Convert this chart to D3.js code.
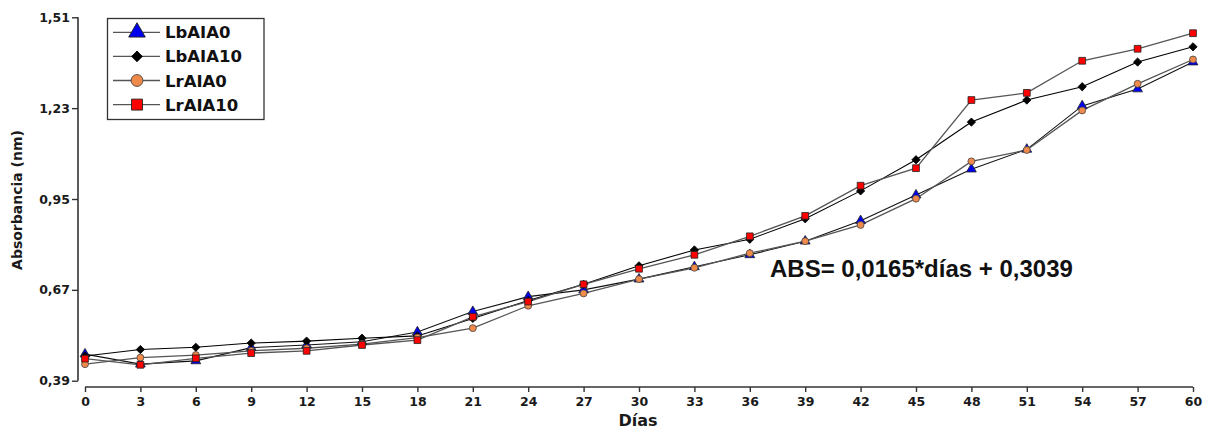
<!DOCTYPE html>
<html>
<head>
<meta charset="utf-8">
<script src="https://cdn.jsdelivr.net/npm/d3@7"></script>
<style>
  html, body { margin: 0; padding: 0; background: #fff; }
  svg { display: block; }
</style>
</head>
<body>
<svg id="chart" width="1211" height="431"></svg>
<script>
// Sampling days and absorbance readings for each treatment
const days = [0, 3, 6, 9, 12, 15, 18, 21, 24, 27, 30, 33, 36, 39, 42, 45, 48, 51, 54, 57, 60];
const seriesNames = ["LbAIA0", "LbAIA10", "LrAIA0", "LrAIA10"];
const lbAIA0  = [0.472, 0.441, 0.451, 0.492, 0.500, 0.510, 0.540, 0.603, 0.649, 0.670, 0.703, 0.741, 0.778, 0.820, 0.883, 0.962, 1.042, 1.103, 1.237, 1.289, 1.372];
const lbAIA10 = [0.466, 0.486, 0.493, 0.506, 0.512, 0.521, 0.528, 0.582, 0.637, 0.687, 0.744, 0.793, 0.826, 0.889, 0.975, 1.071, 1.187, 1.255, 1.296, 1.372, 1.419];
const lrAIA0  = [0.441, 0.461, 0.469, 0.482, 0.490, 0.503, 0.523, 0.552, 0.621, 0.659, 0.703, 0.738, 0.783, 0.820, 0.870, 0.951, 1.066, 1.101, 1.223, 1.305, 1.380];
const lrAIA10 = [0.458, 0.439, 0.459, 0.475, 0.482, 0.500, 0.515, 0.587, 0.634, 0.687, 0.735, 0.778, 0.835, 0.898, 0.991, 1.045, 1.255, 1.277, 1.376, 1.413, 1.461];
const yTicks = [0.39, 0.67, 0.95, 1.23, 1.51];
const xTicks = days;
const equationText = "ABS= 0,0165*días + 0,3039";

const svg = d3.select("#chart");
const x = d3.scaleLinear().domain([0, 60]).range([85, 1193]);
const y = d3.scaleLinear().domain([0.39, 1.51]).range([380.7, 17.3]);
const axisColor = "#333";
const tickFont = "'DejaVu Sans', sans-serif";

// Y axis (detached from the x axis)
const yAxis = svg.append("g")
  .attr("transform", "translate(78,0)")
  .call(d3.axisLeft(y).tickValues(yTicks).tickSize(6).tickPadding(2)
        .tickFormat(d => d3.format(".2f")(d).replace(".", ",")));
yAxis.select(".domain").attr("stroke", axisColor).attr("stroke-width", 1.6).attr("d", `M0,${y(1.51)}V${y(0.39)}`);
yAxis.selectAll(".tick line").attr("stroke", axisColor).attr("stroke-width", 1.4);
yAxis.selectAll(".tick text").attr("font-family", tickFont).attr("font-weight", "bold")
  .attr("font-size", 12.5).attr("fill", "#1a1a1a");

// X axis
const xAxis = svg.append("g")
  .attr("transform", "translate(0,387)")
  .call(d3.axisBottom(x).tickValues(xTicks).tickSize(5).tickPadding(5).tickFormat(d3.format("d")));
xAxis.select(".domain").attr("stroke", axisColor).attr("stroke-width", 1.6).attr("d", `M${x(0)},0H${x(60)}`);
xAxis.selectAll(".tick line").attr("stroke", axisColor).attr("stroke-width", 1.4);
xAxis.selectAll(".tick text").attr("font-family", tickFont).attr("font-weight", "bold")
  .attr("font-size", 12.5).attr("fill", "#1a1a1a");

// Axis titles
svg.append("text")
  .attr("x", x(30) - 1).attr("y", 426)
  .attr("text-anchor", "middle")
  .attr("font-family", tickFont).attr("font-weight", "bold").attr("font-size", 16)
  .attr("fill", "#1a1a1a").text("Días");
svg.append("text")
  .attr("transform", "translate(22,200) rotate(-90)")
  .attr("text-anchor", "middle")
  .attr("font-family", tickFont).attr("font-weight", "bold").attr("font-size", 14)
  .attr("fill", "#1a1a1a").text("Absorbancia (nm)");

// Series definitions
const series = [
  { name: seriesNames[0], values: lbAIA0,  symbol: d3.symbolTriangle, fill: "#0000ee", stroke: "#222", line: "#111", lw: 1.1, size: 42, lsize: 120 },
  { name: seriesNames[1], values: lbAIA10, symbol: d3.symbolDiamond2, fill: "#000",    stroke: "#000", line: "#000", lw: 1.1, size: 44, lsize: 72 },
  { name: seriesNames[2], values: lrAIA0,  symbol: d3.symbolCircle,   fill: "#f08a4b", stroke: "#444", line: "#555", lw: 1.3, size: 38, lsize: 110 },
  { name: seriesNames[3], values: lrAIA10, symbol: d3.symbolSquare,   fill: "#ff0000", stroke: "#222", line: "#555", lw: 1.3, size: 46, lsize: 120 }
];

const line = d3.line().x(d => x(d[0])).y(d => y(d[1]));

const plot = svg.append("g");
series.forEach(s => {
  plot.append("path")
    .datum(days.map((d, i) => [d, s.values[i]]))
    .attr("fill", "none").attr("stroke", s.line).attr("stroke-width", s.lw)
    .attr("d", line);
});
series.forEach(s => {
  plot.append("g").selectAll("path")
    .data(days.map((d, i) => [d, s.values[i]]))
    .join("path")
    .attr("transform", d => `translate(${x(d[0])},${y(d[1])})`)
    .attr("d", d3.symbol(s.symbol, s.size))
    .attr("fill", s.fill).attr("stroke", s.stroke).attr("stroke-width", 0.8);
});

// Fitted equation
svg.append("text")
  .attr("x", 770).attr("y", 277)
  .attr("font-family", "'Liberation Sans', Arial, sans-serif").attr("font-weight", "bold")
  .attr("font-size", 24).attr("fill", "#111")
  .text(equationText);

// Legend
const legend = svg.append("g");
legend.append("rect")
  .attr("x", 107.5).attr("y", 18.5).attr("width", 156.5).attr("height", 101)
  .attr("fill", "#fff").attr("stroke", "#333").attr("stroke-width", 1.3);
series.forEach((s, i) => {
  const ly = 32.3 + i * 24.1;
  legend.append("line").attr("x1", 113).attr("x2", 160).attr("y1", ly).attr("y2", ly)
    .attr("stroke", "#555").attr("stroke-width", 1.3);
  legend.append("path").attr("transform", `translate(137,${ly})`)
    .attr("d", d3.symbol(s.symbol, s.lsize))
    .attr("fill", s.fill).attr("stroke", s.stroke).attr("stroke-width", 0.9);
  legend.append("text").attr("x", 165).attr("y", ly + 6)
    .attr("font-family", tickFont).attr("font-weight", "bold").attr("font-size", 16.5)
    .attr("fill", "#111").text(s.name);
});
</script>
</body>
</html>
